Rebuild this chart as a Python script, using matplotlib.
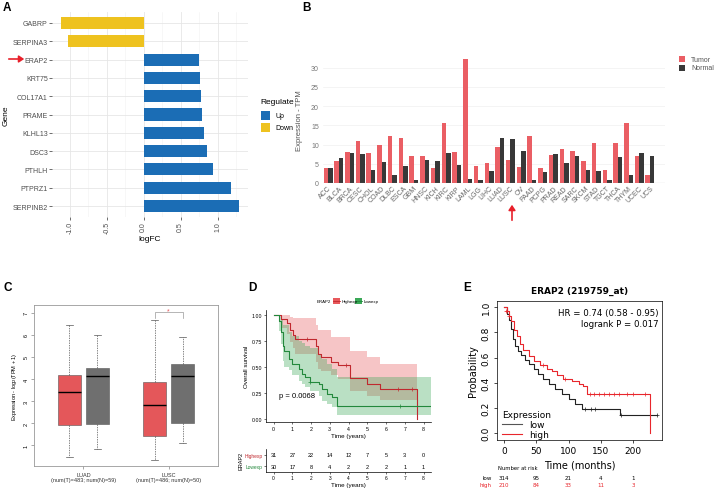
import matplotlib
matplotlib.use('Agg')
import matplotlib.pyplot as plt
from matplotlib.patches import Rectangle
from matplotlib.lines import Line2D
import numpy as np

# ---------------- data ----------------
# Panel A
genes = ['SERPINB2', 'PTPRZ1', 'PTHLH', 'DSC3', 'KLHL13', 'PRAME', 'COL17A1',
         'KRT75', 'ERAP2', 'SERPINA3', 'GABRP']
logfc = [1.29, 1.18, 0.94, 0.86, 0.81, 0.79, 0.77, 0.76, 0.75, -1.03, -1.12]
regulate = ['Up'] * 9 + ['Down'] * 2

# Panel B
cancers = ['ACC', 'BLCA', 'BRCA', 'CESC', 'CHOL', 'COAD', 'DLBC', 'ESCA', 'GBM',
           'HNSC', 'KICH', 'KIRC', 'KIRP', 'LAML', 'LGG', 'LIHC', 'LUAD', 'LUSC',
           'OV', 'PAAD', 'PCPG', 'PRAD', 'READ', 'SARC', 'SKCM', 'STAD', 'TGCT',
           'THCA', 'THYM', 'UCEC', 'UCS']
tumor_tpm = [3.9, 5.7, 8.0, 10.9, 7.7, 10.0, 12.3, 11.7, 7.0, 7.1, 3.8, 15.7, 8.0,
             32.1, 4.5, 5.3, 9.4, 6.1, 4.1, 12.3, 3.8, 7.4, 8.9, 8.4, 5.6, 10.3,
             3.3, 10.3, 15.6, 7.1, 2.1]
normal_tpm = [4.0, 6.6, 7.7, 7.6, 3.5, 5.5, 2.1, 4.5, 0.9, 6.1, 5.7, 7.7, 4.8,
              1.1, 0.9, 3.0, 11.7, 11.5, 8.2, 0.9, 2.8, 7.5, 5.2, 6.9, 3.5, 3.0,
              0.9, 6.8, 2.1, 7.7, 7.1]

# Panel C  (box summaries: whislo, q1, median, q3, whishi)
c_groups = ['LUAD', 'LUSC']
c_counts = ['(num(T)=483; num(N)=59)', '(num(T)=486; num(N)=50)']
c_tumor = [[0.45, 1.9, 3.4, 4.2, 6.45], [0.3, 1.4, 2.8, 3.87, 6.7]]
c_normal = [[0.8, 1.95, 4.15, 4.5, 6.0], [1.1, 2.0, 4.15, 4.7, 5.9]]

# Panel D (Kaplan-Meier, years)
hi_t = [0, 0.4, 0.7, 0.9, 1.05, 1.15, 2.25, 2.35, 2.55, 3.05, 3.45, 4.1, 5.0, 5.7, 7.63]
hi_s = [1.0, 0.96, 0.92, 0.86, 0.81, 0.77, 0.70, 0.63, 0.60, 0.55, 0.52, 0.39, 0.34, 0.29, 0.0]
hi_up = [1.0, 1.0, 1.0, 0.98, 0.97, 0.97, 0.91, 0.86, 0.86, 0.79, 0.79, 0.65, 0.60, 0.53, 0.53]
hi_lo = [1.0, 0.88, 0.82, 0.74, 0.68, 0.63, 0.55, 0.48, 0.46, 0.42, 0.38, 0.27, 0.22, 0.18, 0.18]
hi_cens_t = [1.8, 3.85, 6.65, 7.37]
hi_cens_s = [0.77, 0.52, 0.29, 0.29]
lo_t = [0, 0.27, 0.39, 0.48, 0.57, 0.8, 0.98, 1.34, 1.52, 1.7, 1.97, 2.41, 2.59, 2.86, 3.13, 3.4, 8.4]
lo_s = [1.0, 0.94, 0.84, 0.70, 0.65, 0.58, 0.53, 0.48, 0.43, 0.40, 0.36, 0.34, 0.29, 0.24, 0.21, 0.12, 0.12]
lo_up = [1.0, 1.0, 0.96, 0.91, 0.91, 0.84, 0.80, 0.75, 0.73, 0.70, 0.68, 0.63, 0.58, 0.53, 0.48, 0.40, 0.40]
lo_lo = [1.0, 0.85, 0.72, 0.56, 0.50, 0.47, 0.42, 0.37, 0.34, 0.31, 0.27, 0.22, 0.17, 0.14, 0.11, 0.04, 0.04]
lo_cens_t = [1.97, 6.75]
lo_cens_s = [0.36, 0.12]
risk_years = [0, 1, 2, 3, 4, 5, 6, 7, 8]
risk_high = [31, 27, 22, 14, 12, 7, 5, 3, 0]
risk_low = [30, 17, 8, 4, 2, 2, 2, 1, 1]

# Panel E (Kaplan-Meier, months)
e_low_t = [0, 4, 7, 10, 14.5, 17, 22, 27, 33, 38, 46, 53, 61, 69, 79, 90, 100, 110, 121, 180, 237]
e_low_s = [1.0, 0.95, 0.90, 0.83, 0.75, 0.69, 0.65, 0.62, 0.58, 0.55, 0.51, 0.47, 0.43,
           0.39, 0.35, 0.31, 0.27, 0.23, 0.19, 0.14, 0.14]
e_high_t = [0, 4, 7, 10, 15, 20, 25, 30, 38, 46, 56, 66, 74, 82, 92, 105, 116, 123, 128, 227]
e_high_s = [1.0, 0.97, 0.93, 0.89, 0.82, 0.77, 0.71, 0.66, 0.61, 0.57, 0.54, 0.51, 0.49,
            0.46, 0.43, 0.41, 0.39, 0.37, 0.31, 0.0]
e_high_cens_t = [3, 5, 8, 60, 95, 133, 140, 148, 155, 162, 170, 178, 190, 200, 218]
e_high_cens_s = [0.97, 0.97, 0.93, 0.54, 0.43, 0.31, 0.31, 0.31, 0.31, 0.31, 0.31, 0.31, 0.31, 0.31, 0.31]
e_low_cens_t = [125, 135, 141, 182, 237]
e_low_cens_s = [0.19, 0.19, 0.19, 0.14, 0.14]
e_risk_t = [0, 50, 100, 150, 200]
e_risk_low = [314, 95, 21, 4, 1]
e_risk_high = [210, 84, 33, 11, 3]

# ---------------- layout helpers ----------------
W, H = 714, 489
fig = plt.figure(figsize=(W / 100, H / 100), dpi=100)
plt.rcParams['font.family'] = ['Liberation Sans', 'DejaVu Sans']


def R(l, t, r, b):
    return [l / W, 1 - b / H, (r - l) / W, (b - t) / H]


def ftext(x, y, s, **kw):
    fig.text(x / W, 1 - y / H, s, **kw)


def frect(x0, y0, x1, y1, color):
    fig.patches.append(Rectangle((x0 / W, 1 - y1 / H), (x1 - x0) / W, (y1 - y0) / H,
                                 transform=fig.transFigure, color=color, lw=0))


def farrow(x0, y0, x1, y1):
    fig.add_artist(matplotlib.patches.FancyArrowPatch(
        (x0 / W, 1 - y0 / H), (x1 / W, 1 - y1 / H), transform=fig.transFigure,
        arrowstyle='-|>,head_length=3,head_width=2', color='#E8202A', lw=1.2))


# panel letters
for lx, ly, letter in [(3, 2, 'A'), (302, 2, 'B'), (3, 282, 'C'), (248, 282, 'D'), (463, 282, 'E')]:
    ftext(lx, ly, letter, fontsize=8.5, fontweight='bold', va='top', ha='left')

# ---------------- Panel A ----------------
blue, yellow = '#1B6DB5', '#EEC21F'
axA = fig.add_axes(R(52, 13, 248, 218))
yA = np.arange(len(genes))
axA.barh(yA, logfc, height=0.66, color=[blue if r == 'Up' else yellow for r in regulate], zorder=3)
axA.set_ylim(-0.6, 10.6)
axA.set_xlim(-1.24, 1.41)
axA.set_yticks(yA)
axA.set_yticklabels(genes, fontsize=5, color='#4D4D4D')
axA.set_xticks([-1, -0.5, 0, 0.5, 1])
axA.set_xticklabels(['-1.0', '-0.5', '0.0', '0.5', '1.0'], rotation=90, fontsize=5, color='#4D4D4D')
axA.set_xticks([-0.75, -0.25, 0.25, 0.75, 1.25], minor=True)
axA.grid(True, which='major', color='#E6E6E6', lw=0.6, zorder=0)
axA.grid(True, which='minor', axis='x', color='#F2F2F2', lw=0.4, zorder=0)
for s in axA.spines.values():
    s.set_visible(False)
axA.tick_params(which='major', length=2, width=0.5, color='#333333', pad=1)
axA.tick_params(which='minor', length=0)
axA.set_xlabel('logFC', fontsize=6, labelpad=1)
axA.set_ylabel('Gene', fontsize=6, labelpad=2)
# legend A
ftext(260, 103, 'Regulate', fontsize=6, va='center', ha='left')
frect(261, 112, 270, 121, blue)
frect(261, 124, 270, 133, yellow)
ftext(275, 117, 'Up', fontsize=5, va='center')
ftext(275, 129, 'Down', fontsize=5, va='center')
farrow(6, 60, 27, 60)

# ---------------- Panel B ----------------
axB = fig.add_axes(R(323, 57, 665, 184))
xB = np.arange(len(cancers))
axB.bar(xB - 0.21, tumor_tpm, width=0.42, color='#EA5E64', zorder=3)
axB.bar(xB + 0.21, normal_tpm, width=0.42, color='#383838', zorder=3)
axB.set_xlim(-0.47, 31.4)
axB.set_ylim(0, 33)
axB.set_yticks([0, 5, 10, 15, 20, 25, 30])
axB.set_xticks(xB)
axB.set_xticklabels(cancers, rotation=45, ha='right', rotation_mode='anchor', fontsize=5, color='#666666')
axB.tick_params(axis='y', length=0, labelsize=5, labelcolor='#777777', pad=3)
axB.tick_params(axis='x', length=0, pad=1)
axB.grid(True, axis='y', color='#F0F0F0', lw=0.5, zorder=0)
for s in axB.spines.values():
    s.set_visible(False)
axB.axhline(0, color='#999999', lw=0.8, zorder=4)
axB.set_ylabel('Expression - TPM', fontsize=5.5, color='#555555', labelpad=6)
frect(679, 57, 685, 63, '#EA5E64')
frect(679, 66, 685, 72, '#383838')
ftext(691, 60, 'Tumor', fontsize=5, va='center', color='#555555')
ftext(691, 69, 'Normal', fontsize=5, va='center', color='#555555')
farrow(512, 224, 512, 203)

# ---------------- Panel C ----------------
axC = fig.add_axes(R(34, 306, 218, 467))
stats = []
pos = []
cols = []
for i in range(len(c_groups)):
    for box, off, col in [(c_tumor[i], -0.165, '#E4575A'), (c_normal[i], 0.165, '#6F6F6F')]:
        stats.append(dict(whislo=box[0], q1=box[1], med=box[2], q3=box[3], whishi=box[4], fliers=[]))
        pos.append(i + 1 + off)
        cols.append(col)
bp = axC.bxp(stats, positions=pos, widths=0.27, patch_artist=True, showfliers=False,
             boxprops=dict(lw=0.4, edgecolor='#555555'),
             medianprops=dict(color='black', lw=1.0),
             whiskerprops=dict(color='#555555', lw=0.5, ls=(0, (2, 1.5))),
             capprops=dict(color='#555555', lw=0.5), capwidths=0.08)
for patch, col in zip(bp['boxes'], cols):
    patch.set_facecolor(col)
axC.set_xlim(0.42, 2.58)
axC.set_ylim(0.05, 7.36)
axC.set_xticks([1, 2])
axC.set_xticklabels([f'{g}\n{c}' for g, c in zip(c_groups, c_counts)], fontsize=4, color='#333333')
axC.set_yticks([1, 2, 3, 4, 5, 6, 7])
axC.set_yticklabels(['1', '2', '3', '4', '5', '6', '7'], rotation=90, va='center')
axC.tick_params(axis='both', labelsize=4, length=2, width=0.4, color='#666666', pad=2)
for s in axC.spines.values():
    s.set_color('#999999')
    s.set_linewidth(0.6)
axC.set_ylabel('Expression - log$_2$(TPM + 1)', fontsize=4, labelpad=3)
axC.plot([2 - 0.165, 2 - 0.165, 2 + 0.165, 2 + 0.165], [6.75, 7.05, 7.05, 6.75], color='#999999', lw=0.5)
axC.text(2, 7.08, '*', color='#E4575A', fontsize=5, ha='center', va='center')

# ---------------- Panel D ----------------
red_line, green_line = '#C0282E', '#23883C'
axD = fig.add_axes(R(266, 311, 431, 423))
axD.fill_between(hi_t, hi_lo, hi_up, step='post', color='#E8595C', alpha=0.35, lw=0)
axD.fill_between(lo_t, lo_lo, lo_up, step='post', color='#3AA857', alpha=0.35, lw=0)
axD.step(hi_t, hi_s, where='post', color=red_line, lw=0.8)
axD.step(lo_t, lo_s, where='post', color=green_line, lw=0.8)
axD.plot(hi_cens_t, hi_cens_s, '+', color=red_line, ms=2.5, mew=0.5)
axD.plot(lo_cens_t, lo_cens_s, '+', color=green_line, ms=2.5, mew=0.5)
axD.set_xlim(-0.4, 8.4)
axD.set_ylim(-0.03, 1.05)
axD.set_xticks(range(9))
axD.set_yticks([0, 0.25, 0.5, 0.75, 1.0])
axD.set_yticklabels(['0.00', '0.25', '0.50', '0.75', '1.00'])
axD.tick_params(labelsize=3.8, length=1.5, width=0.4, pad=1.5)
for s in ['top', 'right']:
    axD.spines[s].set_visible(False)
for s in ['left', 'bottom']:
    axD.spines[s].set_linewidth(0.5)
axD.set_xlabel('Time (years)', fontsize=4.5, labelpad=1.5)
axD.set_ylabel('Overall survival', fontsize=4.5, labelpad=2)
axD.text(0.3, 0.23, 'p = 0.0068', fontsize=5.5, va='center')
# legend D
ftext(317, 302, 'ERAP2', fontsize=3.2, va='center')
for x0, col, lab in [(333, red_line, 'Highexp'), (355, green_line, 'Lowexp')]:
    frect(x0, 299, x0 + 7, 305, '#E8595C' if col == red_line else '#3AA857')
    fig.add_artist(Line2D([x0 / W, (x0 + 7) / W], [1 - 302 / H, 1 - 302 / H], color=col, lw=0.6))
    ftext(x0 + 9, 302, lab, fontsize=3.2, va='center')

# risk table D
axR = fig.add_axes(R(266, 450, 431, 473))
axR.set_xlim(-0.4, 8.4)
axR.set_ylim(0, 1)
for t, nh, nl in zip(risk_years, risk_high, risk_low):
    axR.text(t, 0.74, str(nh), fontsize=4, ha='center', va='center')
    axR.text(t, 0.26, str(nl), fontsize=4, ha='center', va='center')
axR.set_yticks([0.26, 0.74])
axR.set_yticklabels(['Lowexp', 'Highexp'])
axR.get_yticklabels()[0].set_color(green_line)
axR.get_yticklabels()[1].set_color(red_line)
axR.set_xticks(range(9))
axR.tick_params(labelsize=3.5, length=1.5, width=0.4, pad=1)
for s in ['top', 'right']:
    axR.spines[s].set_visible(False)
for s in ['left', 'bottom']:
    axR.spines[s].set_linewidth(0.5)
axR.set_xlabel('Time (years)', fontsize=4.5, labelpad=1)
axR.set_ylabel('ERAP2', fontsize=4, labelpad=1)

# ---------------- Panel E ----------------
axE = fig.add_axes(R(497, 302, 662, 441))
axE.step(e_low_t, e_low_s, where='post', color='#222222', lw=0.8)
axE.step(e_high_t, e_high_s, where='post', color='#E8262C', lw=0.8)
axE.plot(e_high_cens_t, e_high_cens_s, '+', color='#E8262C', ms=3, mew=0.5)
axE.plot(e_low_cens_t, e_low_cens_s, '+', color='#222222', ms=3, mew=0.5)
axE.set_xlim(-11, 245)
axE.set_ylim(-0.056, 1.05)
axE.set_xticks([0, 50, 100, 150, 200])
axE.set_yticks([0, 0.2, 0.4, 0.6, 0.8, 1.0])
axE.set_yticklabels(['0.0', '0.2', '0.4', '0.6', '0.8', '1.0'], rotation=90, va='center')
axE.tick_params(labelsize=6.5, length=2.5, width=0.5, pad=2)
for s in axE.spines.values():
    s.set_linewidth(0.5)
axE.set_xlabel('Time (months)', fontsize=7, family='DejaVu Sans', labelpad=3)
axE.set_ylabel('Probability', fontsize=7, family='DejaVu Sans', labelpad=3)
axE.set_title('ERAP2 (219759_at)', fontsize=6.5, fontweight='bold', family='DejaVu Sans', pad=6)
for lab in axE.get_xticklabels() + axE.get_yticklabels():
    lab.set_family('DejaVu Sans')
axE.text(0.98, 0.95, 'HR = 0.74 (0.58 - 0.95)\nlogrank P = 0.017', transform=axE.transAxes,
         ha='right', va='top', fontsize=6.2, family='DejaVu Sans', linespacing=1.25)
leg = axE.legend([Line2D([], [], color='#555555', lw=0.8), Line2D([], [], color='#E8262C', lw=0.8)],
                 ['low', 'high'], title='Expression', loc='lower left', bbox_to_anchor=(-0.01, -0.04),
                 frameon=False, fontsize=6.5, title_fontsize=6.5, handlelength=2.2,
                 handletextpad=0.8, borderpad=0.2, labelspacing=0.1,
                 prop={'family': 'DejaVu Sans', 'size': 6.5})
leg.get_title().set_family('DejaVu Sans')
leg._legend_box.align = 'left'
# number at risk
import matplotlib.transforms as mtrans
trE = mtrans.blended_transform_factory(axE.transData, fig.transFigure)
ftext(498, 469, 'Number at risk', fontsize=3.8, va='center', family='DejaVu Sans')
ftext(492, 479, 'low', fontsize=4, va='center', ha='right', family='DejaVu Sans')
ftext(492, 486, 'high', fontsize=4, va='center', ha='right', color='#E8262C', family='DejaVu Sans')
for t, nl, nh in zip(e_risk_t, e_risk_low, e_risk_high):
    axE.text(t, 1 - 479 / H, str(nl), transform=trE, fontsize=4, ha='center', va='center', family='DejaVu Sans')
    axE.text(t, 1 - 486 / H, str(nh), transform=trE, fontsize=4, ha='center', va='center',
             color='#E8262C', family='DejaVu Sans')

fig.savefig('out.png', dpi=100)
